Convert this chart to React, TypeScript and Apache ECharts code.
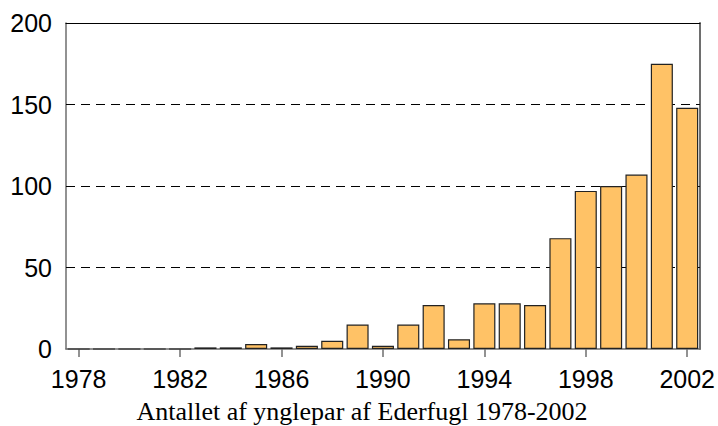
import React, { useEffect, useRef } from "react";
import * as echarts from "echarts";

const years = [
  "1978","1979","1980","1981","1982","1983","1984","1985","1986","1987","1988","1989","1990",
  "1991","1992","1993","1994","1995","1996","1997","1998","1999","2000","2001","2002",
];
const pairs = [0, 0, 0, 0, 0, 1, 1, 3, 1, 2, 5, 15, 2, 15, 27, 6, 28, 28, 27, 68, 97, 100, 107, 175, 148];
const yTicks = [0, 50, 100, 150, 200];
const gridValues = [50, 100, 150];
const title = "Antallet af ynglepar af Ederfugl 1978-2002";

export default function App() {
  const ref = useRef<HTMLDivElement>(null);
  useEffect(() => {
    const chart = echarts.init(ref.current!, undefined, { renderer: "svg" });
    chart.setOption({
      animation: false,
      backgroundColor: "#fff",
      grid: { left: 66, right: 18, top: 23, bottom: 77, containLabel: false },
      xAxis: [
        {
          type: "category",
          data: years,
          boundaryGap: true,
          axisLine: { show: true, onZero: false, lineStyle: { color: "#6e6e6e", width: 1.5 } },
          axisTick: { show: true, interval: 3, alignWithLabel: true, length: 8, lineStyle: { color: "#6e6e6e", width: 1.5 } },
          axisLabel: {
            interval: 3,
            color: "#000",
            fontFamily: "Liberation Sans, Arial, sans-serif",
            fontSize: 25,
            margin: 17,
          },
        },
        {
          type: "category",
          data: years,
          position: "top",
          axisLine: { show: true, onZero: false, lineStyle: { color: "#000", width: 1.2 } },
          axisTick: { show: false },
          axisLabel: { show: false },
        },
      ],
      yAxis: [
        {
          type: "value",
          min: yTicks[0],
          max: yTicks[yTicks.length - 1],
          interval: 50,
          axisLine: { show: true, onZero: false, lineStyle: { color: "#6e6e6e", width: 1.5 } },
          axisTick: { show: false },
          axisLabel: {
            color: "#000",
            fontFamily: "Liberation Sans, Arial, sans-serif",
            fontSize: 25,
            margin: 14,
          },
          splitLine: { show: false },
        },
        {
          type: "value",
          position: "right",
          min: 0,
          max: 200,
          interval: 50,
          axisLine: { show: true, onZero: false, lineStyle: { color: "#6e6e6e", width: 2 } },
          axisTick: { show: false },
          axisLabel: { show: false },
          splitLine: { show: false },
        },
      ],
      series: [
        {
          type: "bar",
          data: pairs,
          xAxisIndex: 0,
          yAxisIndex: 0,
          barCategoryGap: "13%",
          itemStyle: { color: "#FFC266", borderColor: "#222", borderWidth: 1.2 },
          z: 3,
          markLine: {
            silent: true,
            symbol: ["none", "none"],
            label: { show: false },
            z: 1,
            lineStyle: { color: "#000", type: [9, 6], width: 1 },
            data: gridValues.map((v) => ({ yAxis: v })),
          },
        },
      ],
      graphic: [
        {
          type: "text",
          x: 362,
          y: 411,
          style: {
            text: title,
            fill: "#000",
            align: "center",
            verticalAlign: "middle",
            font: "26px 'Liberation Serif', 'Times New Roman', serif",
          },
        },
      ],
    });
    return () => chart.dispose();
  }, []);
  return (
    <div
      ref={ref}
      style={{ position: "absolute", left: 0, top: 0, width: 718, height: 426 }}
    />
  );
}
